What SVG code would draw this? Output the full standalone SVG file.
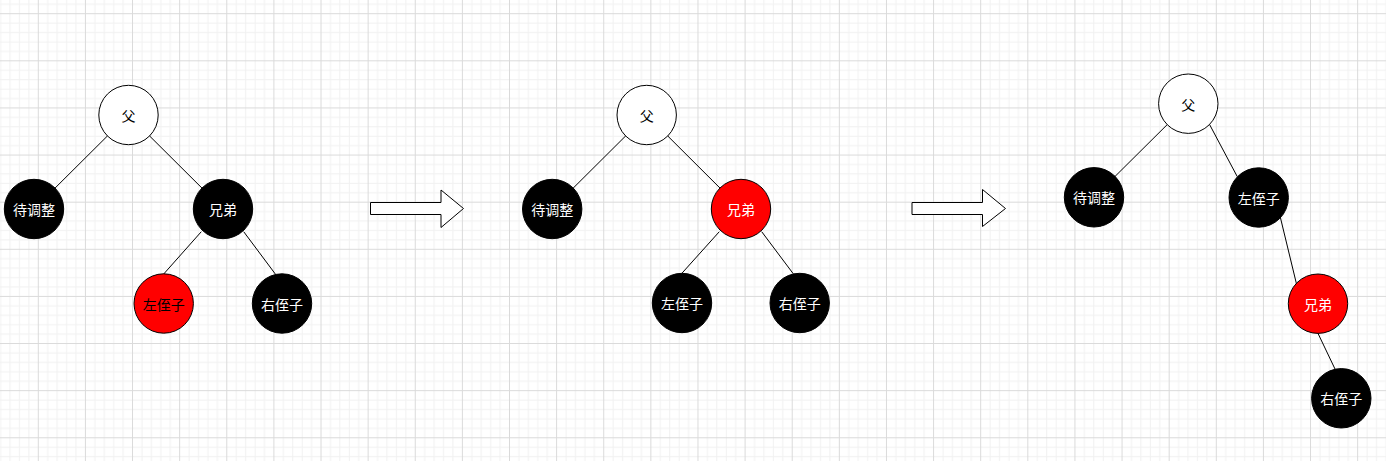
<svg xmlns="http://www.w3.org/2000/svg" width="1386" height="461" viewBox="0 0 1386 461">
<style>
.edge{stroke:#000;stroke-width:1;fill:none}
.n{stroke:#000;stroke-width:1}
.w{fill:#fff}
.b{fill:#000}
.r{fill:#ff0000}
text{font-family:"Noto Sans CJK SC","Noto Sans",sans-serif;font-size:14px;text-anchor:middle;dominant-baseline:central}
.tw{fill:#fff}
.tb{fill:#000}
.arrow{fill:#fff;stroke:#000;stroke-width:1}
</style>
<defs>
<pattern id="grid" patternUnits="userSpaceOnUse" x="37.8" y="13.2" width="47.12" height="47.12">
<rect x="9.424" y="0" width="1" height="47.12" fill="#f1f1f1"/>
<rect x="18.848" y="0" width="1" height="47.12" fill="#f1f1f1"/>
<rect x="28.272" y="0" width="1" height="47.12" fill="#f1f1f1"/>
<rect x="37.696" y="0" width="1" height="47.12" fill="#f1f1f1"/>
<rect x="0" y="9.424" width="47.12" height="1" fill="#f1f1f1"/>
<rect x="0" y="18.848" width="47.12" height="1" fill="#f1f1f1"/>
<rect x="0" y="28.272" width="47.12" height="1" fill="#f1f1f1"/>
<rect x="0" y="37.696" width="47.12" height="1" fill="#f1f1f1"/>
<rect x="0" y="0" width="1" height="47.12" fill="#dadada"/>
<rect x="0" y="0" width="47.12" height="1" fill="#dadada"/>
</pattern>
</defs>
<rect width="1386" height="461" fill="#fff"/>
<rect width="1386" height="461" fill="url(#grid)"/>

<g id="connectors">
<line class="edge" x1="128.5" y1="115" x2="34" y2="209"/>
<line class="edge" x1="128.5" y1="115" x2="223" y2="209"/>
<line class="edge" x1="201.3" y1="231.7" x2="163.7" y2="274"/>
<line class="edge" x1="243.7" y1="231.7" x2="275.3" y2="274"/>

<line class="edge" x1="646.7" y1="115" x2="552.2" y2="209"/>
<line class="edge" x1="646.7" y1="115" x2="741" y2="209"/>
<line class="edge" x1="719.3" y1="231.7" x2="681.7" y2="273.5"/>
<line class="edge" x1="761.7" y1="231.7" x2="793.3" y2="273.8"/>

<line class="edge" x1="1188.3" y1="103.7" x2="1094" y2="197.3"/>
<line class="edge" x1="1209.3" y1="124" x2="1237.3" y2="176.7"/>
<line class="edge" x1="1280.5" y1="218" x2="1296.5" y2="284"/>
<line class="edge" x1="1318" y1="333.4" x2="1335" y2="369"/>
</g>

<g id="arrow1"><path class="arrow" d="M370.5,202.5 H441 V190 L463.5,208.5 L441,227.5 V214.5 H370.5 Z"/></g>
<g id="arrow2"><path class="arrow" d="M912,202.5 H982.5 V189.5 L1005.5,208.5 L982.5,226.5 V214.5 H912 Z"/></g>

<g id="t1-father"><circle class="n w" cx="128.5" cy="115" r="29.7"/><text class="tb" x="128.5" y="115">父</text></g>
<g id="t1-pending"><circle class="n b" cx="34" cy="209" r="29.7"/><text class="tw" x="34" y="209">待调整</text></g>
<g id="t1-sibling"><circle class="n b" cx="223" cy="209" r="29.7"/><text class="tw" x="223" y="209">兄弟</text></g>
<g id="t1-leftnephew"><circle class="n r" cx="163.7" cy="303.5" r="29.7"/><text class="tb" x="163.7" y="303.5">左侄子</text></g>
<g id="t1-rightnephew"><circle class="n b" cx="282" cy="303.5" r="29.7"/><text class="tw" x="282" y="303.5">右侄子</text></g>

<g id="t2-father"><circle class="n w" cx="646.7" cy="115" r="29.7"/><text class="tb" x="646.7" y="115">父</text></g>
<g id="t2-pending"><circle class="n b" cx="552.2" cy="209" r="29.7"/><text class="tw" x="552.2" y="209">待调整</text></g>
<g id="t2-sibling"><circle class="n r" cx="741" cy="209" r="29.7"/><text class="tw" x="741" y="209">兄弟</text></g>
<g id="t2-leftnephew"><circle class="n b" cx="682" cy="303" r="29.7"/><text class="tw" x="682" y="303">左侄子</text></g>
<g id="t2-rightnephew"><circle class="n b" cx="799.7" cy="303" r="29.7"/><text class="tw" x="799.7" y="303">右侄子</text></g>

<g id="t3-father"><circle class="n w" cx="1188.3" cy="103.7" r="29.7"/><text class="tb" x="1188.3" y="103.7">父</text></g>
<g id="t3-pending"><circle class="n b" cx="1094" cy="197.3" r="29.7"/><text class="tw" x="1094" y="197.3">待调整</text></g>
<g id="t3-leftnephew"><circle class="n b" cx="1258.7" cy="197.5" r="29.7"/><text class="tw" x="1258.7" y="197.5">左侄子</text></g>
<g id="t3-sibling"><circle class="n r" cx="1318" cy="303.7" r="29.7"/><text class="tw" x="1318" y="303.7">兄弟</text></g>
<g id="t3-rightnephew"><circle class="n b" cx="1341.3" cy="398.3" r="29.7"/><text class="tw" x="1341.3" y="398.3">右侄子</text></g>
</svg>
